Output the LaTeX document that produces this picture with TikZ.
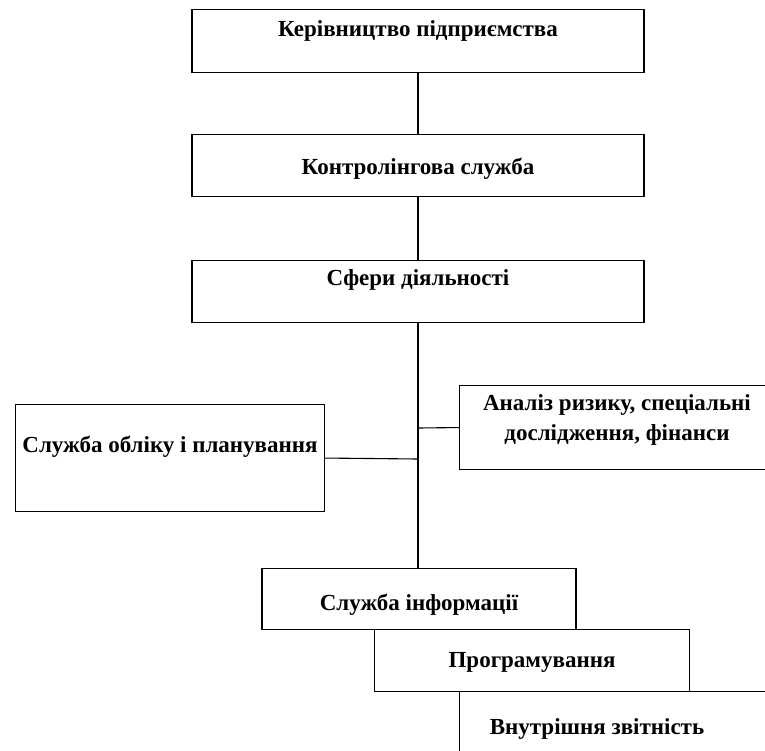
\documentclass[tikz,border=0pt]{standalone}
\usepackage{fontspec}
\setmainfont{Liberation Serif}
\begin{document}
\begin{tikzpicture}[x=1bp,y=-1bp,
  txtfont/.style={font=\bfseries\fontsize{23bp}{27bp}\selectfont},
  blk/.style={draw=black, line width=1.1bp, rectangle, inner sep=0pt, txtfont},
  lbl/.style={inner sep=0pt, txtfont},
  wire/.style={draw=black, line width=1.1bp}]
\useasboundingbox (0,0) rectangle (765,751);
\clip (0,0) rectangle (765,751);

% main column
\node[blk, anchor=north, minimum width=452bp, text height=27bp, text depth=36bp]
  (b1) at (418,9) {Керівництво підприємства};
\node[blk, anchor=north, minimum width=452bp, text height=40bp, text depth=22bp]
  (b2) at (418,134) {Контролінгова служба};
\node[blk, anchor=north, minimum width=452bp, text height=25bp, text depth=37bp]
  (b3) at (418,260) {Сфери діяльності};

% side units
\node[blk, anchor=north west, minimum width=309bp, text height=48bp, text depth=59bp]
  (acc) at (15,404) {Служба обліку і планування};
\node[blk, anchor=north west, minimum width=316bp, minimum height=84bp]
  (risk) at (459,385) {};
\node[lbl, align=center, font=\bfseries\fontsize{23bp}{30bp}\selectfont, anchor=base]
  (risktxt) at (617,440) {Аналіз ризику, спеціальні\\дослідження, фінанси};

% lower cascade
\node[blk, anchor=north, minimum width=314bp, text height=42bp, text depth=19bp]
  (info) at (419,568) {Служба інформації};
\node[blk, anchor=north west, minimum width=315bp, text height=38bp, text depth=24bp]
  (prog) at (374,629) {Програмування};
\node[blk, anchor=north west, minimum width=316bp, minimum height=63bp]
  (rep) at (459,691) {};
\node[lbl, anchor=base] (reptxt) at (597,734) {Внутрішня звітність};

% connectors
\coordinate (jl) at (418,459);
\coordinate (jr) at (418,428);
\draw[wire] (b1.south) -- (b2.north);
\draw[wire] (b2.south) -- (b3.north);
\draw[wire] (b3.south) -- (b3.south |- info.north);
\draw[wire] (acc.east) -- (jl);
\draw[wire] (jr) -- (risk.west);
\end{tikzpicture}
\end{document}
